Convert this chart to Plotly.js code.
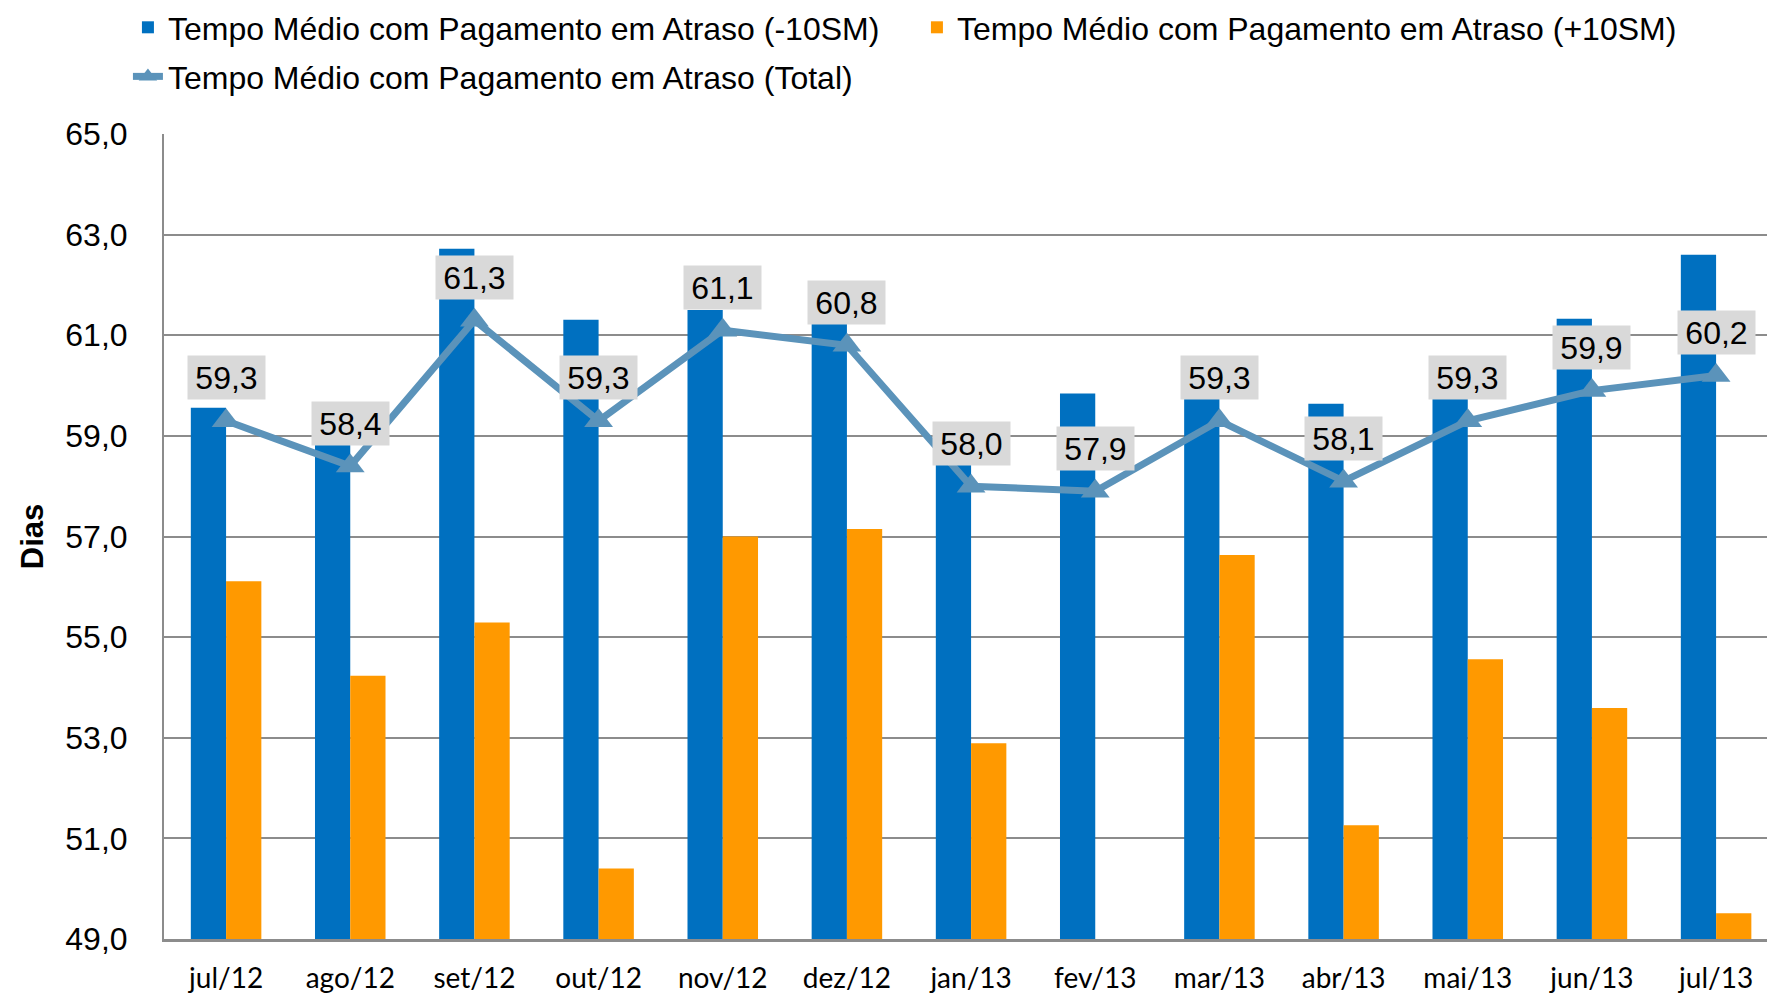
<!DOCTYPE html>
<html>
<head>
<meta charset="utf-8">
<script src="https://cdn.plot.ly/plotly-3.0.1.min.js"></script>
<style>
html,body{margin:0;padding:0;background:#fff;}
#chart{width:1767px;height:996px;}
</style>
</head>
<body>
<div id="chart"></div>
<script>
const categories = ['jul/12','ago/12','set/12','out/12','nov/12','dez/12','jan/13','fev/13','mar/13','abr/13','mai/13','jun/13','jul/13'];
const seriesNames = [
  'Tempo Médio com Pagamento em Atraso (-10SM)',
  'Tempo Médio com Pagamento em Atraso (+10SM)',
  'Tempo Médio com Pagamento em Atraso (Total)'
];
const menos10SM = [59.56, 58.9, 62.72, 61.31, 61.5, 61.25, 58.5, 59.84, 59.75, 59.64, 59.78, 61.33, 62.6];
const mais10SM  = [56.11, 54.23, 55.29, 50.40, 57.0, 57.15, 52.89, null, 56.63, 51.26, 54.56, 53.59, 49.51];
const total     = [59.3, 58.4, 61.3, 59.3, 61.1, 60.8, 58.0, 57.9, 59.3, 58.1, 59.3, 59.9, 60.2];
const yTitle = 'Dias';

const BLUE = '#0070C0', ORANGE = '#FF9900', LINE = '#5B93BA', GRID = '#8C8C8C';
const fmt = v => v.toFixed(1).replace('.', ',');

const traces = [
  {type:'bar', name:seriesNames[0], x:categories, y:menos10SM, marker:{color:BLUE}, legend:'legend'},
  {type:'bar', name:seriesNames[1], x:categories, y:mais10SM, marker:{color:ORANGE}, legend:'legend'},
  {type:'scatter', mode:'lines+markers', name:seriesNames[2], x:categories, y:total,
   line:{color:LINE, width:7}, marker:{symbol:'triangle-up', size:25, color:LINE}, legend:'legend2'}
];

const annotations = total.map((v, i) => ({
  x: categories[i], y: v, xref:'x', yref:'y', text: fmt(v), showarrow:false,
  yshift: 43, bgcolor:'#D9D9D9', borderpad:0, borderwidth:1, bordercolor:'rgba(0,0,0,0)',
  width: 77, height: 43,
  font:{family:'Arial, Liberation Sans, sans-serif', size:32, color:'#000'}
}));

const legendFont = {family:'Arial, Liberation Sans, sans-serif', size:32, color:'#000'};
const layout = {
  width:1767, height:996,
  margin:{l:164, r:0, t:133, b:57},
  paper_bgcolor:'#fff', plot_bgcolor:'#fff',
  separators:',.',
  barmode:'group', bargap:0.432, bargroupgap:0,
  showlegend:true,
  legend:{orientation:'h', x:-0.0225, xanchor:'left', y:1.133, yanchor:'middle',
          font:legendFont, entrywidth:744, entrywidthmode:'pixels', bgcolor:'rgba(0,0,0,0)', traceorder:'normal'},
  legend2:{orientation:'h', x:-0.0225, xanchor:'left', y:1.070, yanchor:'middle',
          font:legendFont, bgcolor:'rgba(0,0,0,0)'},
  xaxis:{type:'category', range:[-0.5, 12.41], showgrid:false, showline:true, linecolor:GRID, linewidth:3,
         ticks:'', ticklabelstandoff:12, zeroline:false,
         tickfont:{family:'Lato, Open Sans, sans-serif', size:28, color:'#000'}},
  yaxis:{range:[49,65], dtick:2, tick0:49, tickformat:'.1f', showgrid:true, gridcolor:GRID, gridwidth:2,
         showline:true, linecolor:GRID, linewidth:2, ticks:'', ticklabelstandoff:28, zeroline:false,
         tickfont:{family:'Arial, Liberation Sans, sans-serif', size:32, color:'#000'},
         title:{text:yTitle, standoff:12, font:{family:'Arial, Liberation Sans, sans-serif', size:31, color:'#000', weight:'bold'}}},
  annotations: annotations
};

Plotly.newPlot('chart', traces, layout, {staticPlot:true, displayModeBar:false});
</script>
</body>
</html>
